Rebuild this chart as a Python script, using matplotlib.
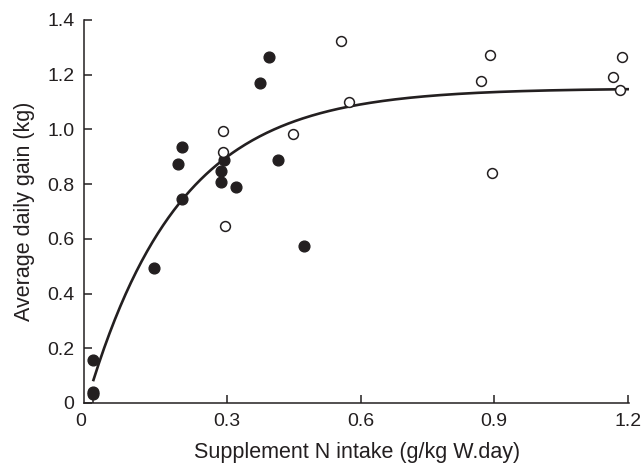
import numpy as np
import matplotlib.pyplot as plt
import matplotlib.transforms as mtransforms

plt.rcParams['font.family'] = ['Liberation Sans', 'DejaVu Sans']

# filled circles
x_filled = [0.0, 0.0, 0.0, 0.137, 0.189, 0.199, 0.199, 0.287, 0.287, 0.293,
            0.319, 0.375, 0.394, 0.415, 0.473]
y_filled = [0.157, 0.041, 0.032, 0.493, 0.872, 0.937, 0.744, 0.848, 0.806, 0.888,
            0.791, 1.168, 1.265, 0.888, 0.574]

# open circles
x_open = [0.291, 0.292, 0.295, 0.447, 0.557, 0.574, 0.871, 0.891, 0.894,
          1.166, 1.182, 1.187]
y_open = [0.993, 0.919, 0.648, 0.984, 1.322, 1.099, 1.177, 1.273, 0.839,
          1.193, 1.145, 1.265]

# fitted curve y = c + a*(1 - exp(-b*x))
c, a, b = 0.084, 1.066, 4.83
xf = np.linspace(0, 1.2, 300)
yf = c + a * (1 - np.exp(-b * xf))

ink = '#231f20'

fig = plt.figure(figsize=(6.42, 4.63), dpi=100)
ax = fig.add_axes([0.131, 0.1296, 0.849, 0.8274])

ax.plot(xf, yf, color=ink, lw=1.9, zorder=2)
ax.scatter(x_filled, y_filled, s=60, color=ink, zorder=3)
ax.scatter(x_open, y_open, s=50, facecolors='white', edgecolors=ink,
           linewidths=1.1, zorder=3)

ax.set_xlim(-0.021, 1.203)
ax.set_ylim(0, 1.4)
ax.set_xticks([0, 0.3, 0.6, 0.9, 1.2])
ax.set_xticklabels(['0', '0.3', '0.6', '0.9', '1.2'])
ax.set_yticks([0, 0.2, 0.4, 0.6, 0.8, 1.0, 1.2, 1.4])
ax.set_yticklabels(['0', '0.2', '0.4', '0.6', '0.8', '1.0', '1.2', '1.4'])

for s in ['top', 'right']:
    ax.spines[s].set_visible(False)
for s in ['left', 'bottom']:
    ax.spines[s].set_linewidth(1.1)
    ax.spines[s].set_color(ink)

ax.tick_params(direction='in', length=6, width=1.1, color=ink,
               labelsize=14, labelcolor=ink, pad=7)
ax.set_xlabel('Supplement N intake (g/kg W.day)', fontsize=15.5, color=ink, labelpad=9)
ax.set_ylabel('Average daily gain (kg)', fontsize=15.5, color=ink, labelpad=9)

# the "0" on the x axis sits at the axis corner in the original
lab0 = ax.get_xticklabels()[0]
lab0.set_transform(lab0.get_transform() +
                   mtransforms.ScaledTranslation(-9 / 72, 0, fig.dpi_scale_trans))

fig.savefig('out.png', dpi=100)
